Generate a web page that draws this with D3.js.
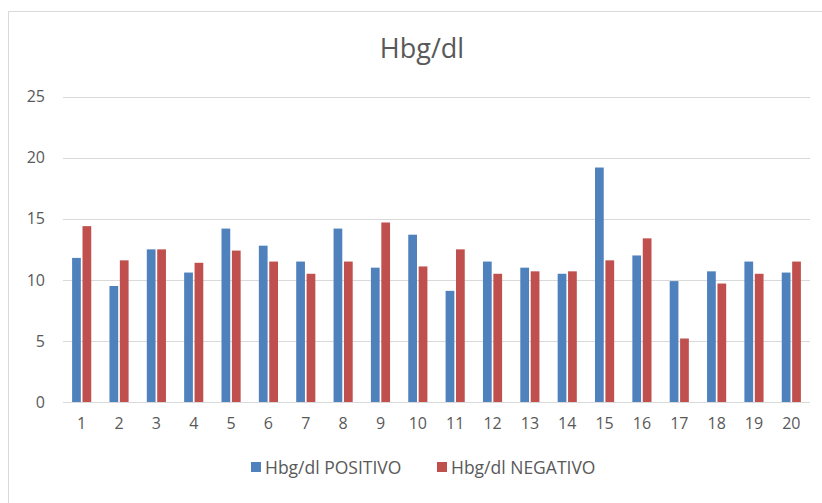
<!DOCTYPE html>
<html lang="en">
<head>
    <meta charset="UTF-8">
    <title>Hbg/dl</title>
    <script src="https://d3js.org/d3.v7.min.js"></script>
    <style>
        body { margin: 0; background: #fff; }
        text { font-family: "Open Sans", "DejaVu Sans", sans-serif; fill: #595959; }
    </style>
</head>
<body>
    <svg id="chart" width="822" height="503"></svg>

    <script>
        // Data
        const categories = ["1","2","3","4","5","6","7","8","9","10","11","12","13","14","15","16","17","18","19","20"];
        const positivo = [11.8, 9.5, 12.5, 10.6, 14.2, 12.8, 11.5, 14.2, 11.0, 13.7, 9.1, 11.5, 11.0, 10.5, 19.2, 12.0, 9.9, 10.7, 11.5, 10.6];
        const negativo = [14.4, 11.6, 12.5, 11.4, 12.4, 11.5, 10.5, 11.5, 14.7, 11.1, 12.5, 10.5, 10.7, 10.7, 11.6, 13.4, 5.2, 9.7, 10.5, 11.5];
        const seriesNames = ["Hbg/dl POSITIVO", "Hbg/dl NEGATIVO"];
        const yTicks = [0, 5, 10, 15, 20, 25];
        const colors = ["#4F81BD", "#C0504D"];

        const svg = d3.select("#chart");

        // chart frame (only top and left edges show in the picture)
        svg.append("rect")
            .attr("x", 8.5).attr("y", 11.5)
            .attr("width", 830).attr("height", 510)
            .attr("fill", "none").attr("stroke", "#d9d9d9");

        const plotLeft = 63, plotRight = 810, plotTop = 96.7, plotBottom = 402;

        const x = d3.scaleBand().domain(categories).range([plotLeft, plotRight]).paddingInner(0).paddingOuter(0);
        const y = d3.scaleLinear().domain([0, 25]).range([plotBottom, plotTop]);

        // gridlines
        svg.append("g")
            .selectAll("line")
            .data(yTicks)
            .enter()
            .append("line")
            .attr("x1", plotLeft).attr("x2", plotRight)
            .attr("y1", d => Math.round(y(d)) + 0.5)
            .attr("y2", d => Math.round(y(d)) + 0.5)
            .attr("stroke", "#d9d9d9");

        // y axis labels
        const yAxis = d3.axisLeft(y).tickValues(yTicks).tickSize(0).tickPadding(0);
        const gy = svg.append("g").attr("transform", "translate(45,0)").call(yAxis);
        gy.select(".domain").remove();
        gy.selectAll("text").style("font-size", "16px").attr("fill", "#595959");

        // x axis labels
        const xAxis = d3.axisBottom(x).tickSize(0).tickPadding(0);
        const gx = svg.append("g").attr("transform", "translate(0,418)").call(xAxis);
        gx.select(".domain").remove();
        gx.selectAll("text").style("font-size", "16px").attr("fill", "#595959");

        // bars
        const inner = d3.scaleBand().domain([0, 1]).range([0, x.bandwidth()]).paddingInner(0.16).paddingOuter(0.875);
        const series = [positivo, negativo];
        series.forEach((vals, s) => {
            svg.append("g")
                .selectAll("rect")
                .data(vals)
                .enter()
                .append("rect")
                .attr("x", (d, i) => x(categories[i]) + inner(s))
                .attr("y", d => y(d))
                .attr("width", inner.bandwidth())
                .attr("height", d => plotBottom - y(d))
                .attr("fill", colors[s]);
        });

        // title
        svg.append("text")
            .attr("x", 422).attr("y", 58)
            .attr("text-anchor", "middle")
            .style("font-size", "27px")
            .text("Hbg/dl");

        // legend
        const legendX = [251, 437];
        seriesNames.forEach((name, i) => {
            svg.append("rect")
                .attr("x", legendX[i]).attr("y", 462)
                .attr("width", 10).attr("height", 10)
                .attr("fill", colors[i]);
            svg.append("text")
                .attr("x", legendX[i] + 14).attr("y", 474)
                .style("font-size", "17.5px")
                .text(name);
        });
    </script>
</body>
</html>
